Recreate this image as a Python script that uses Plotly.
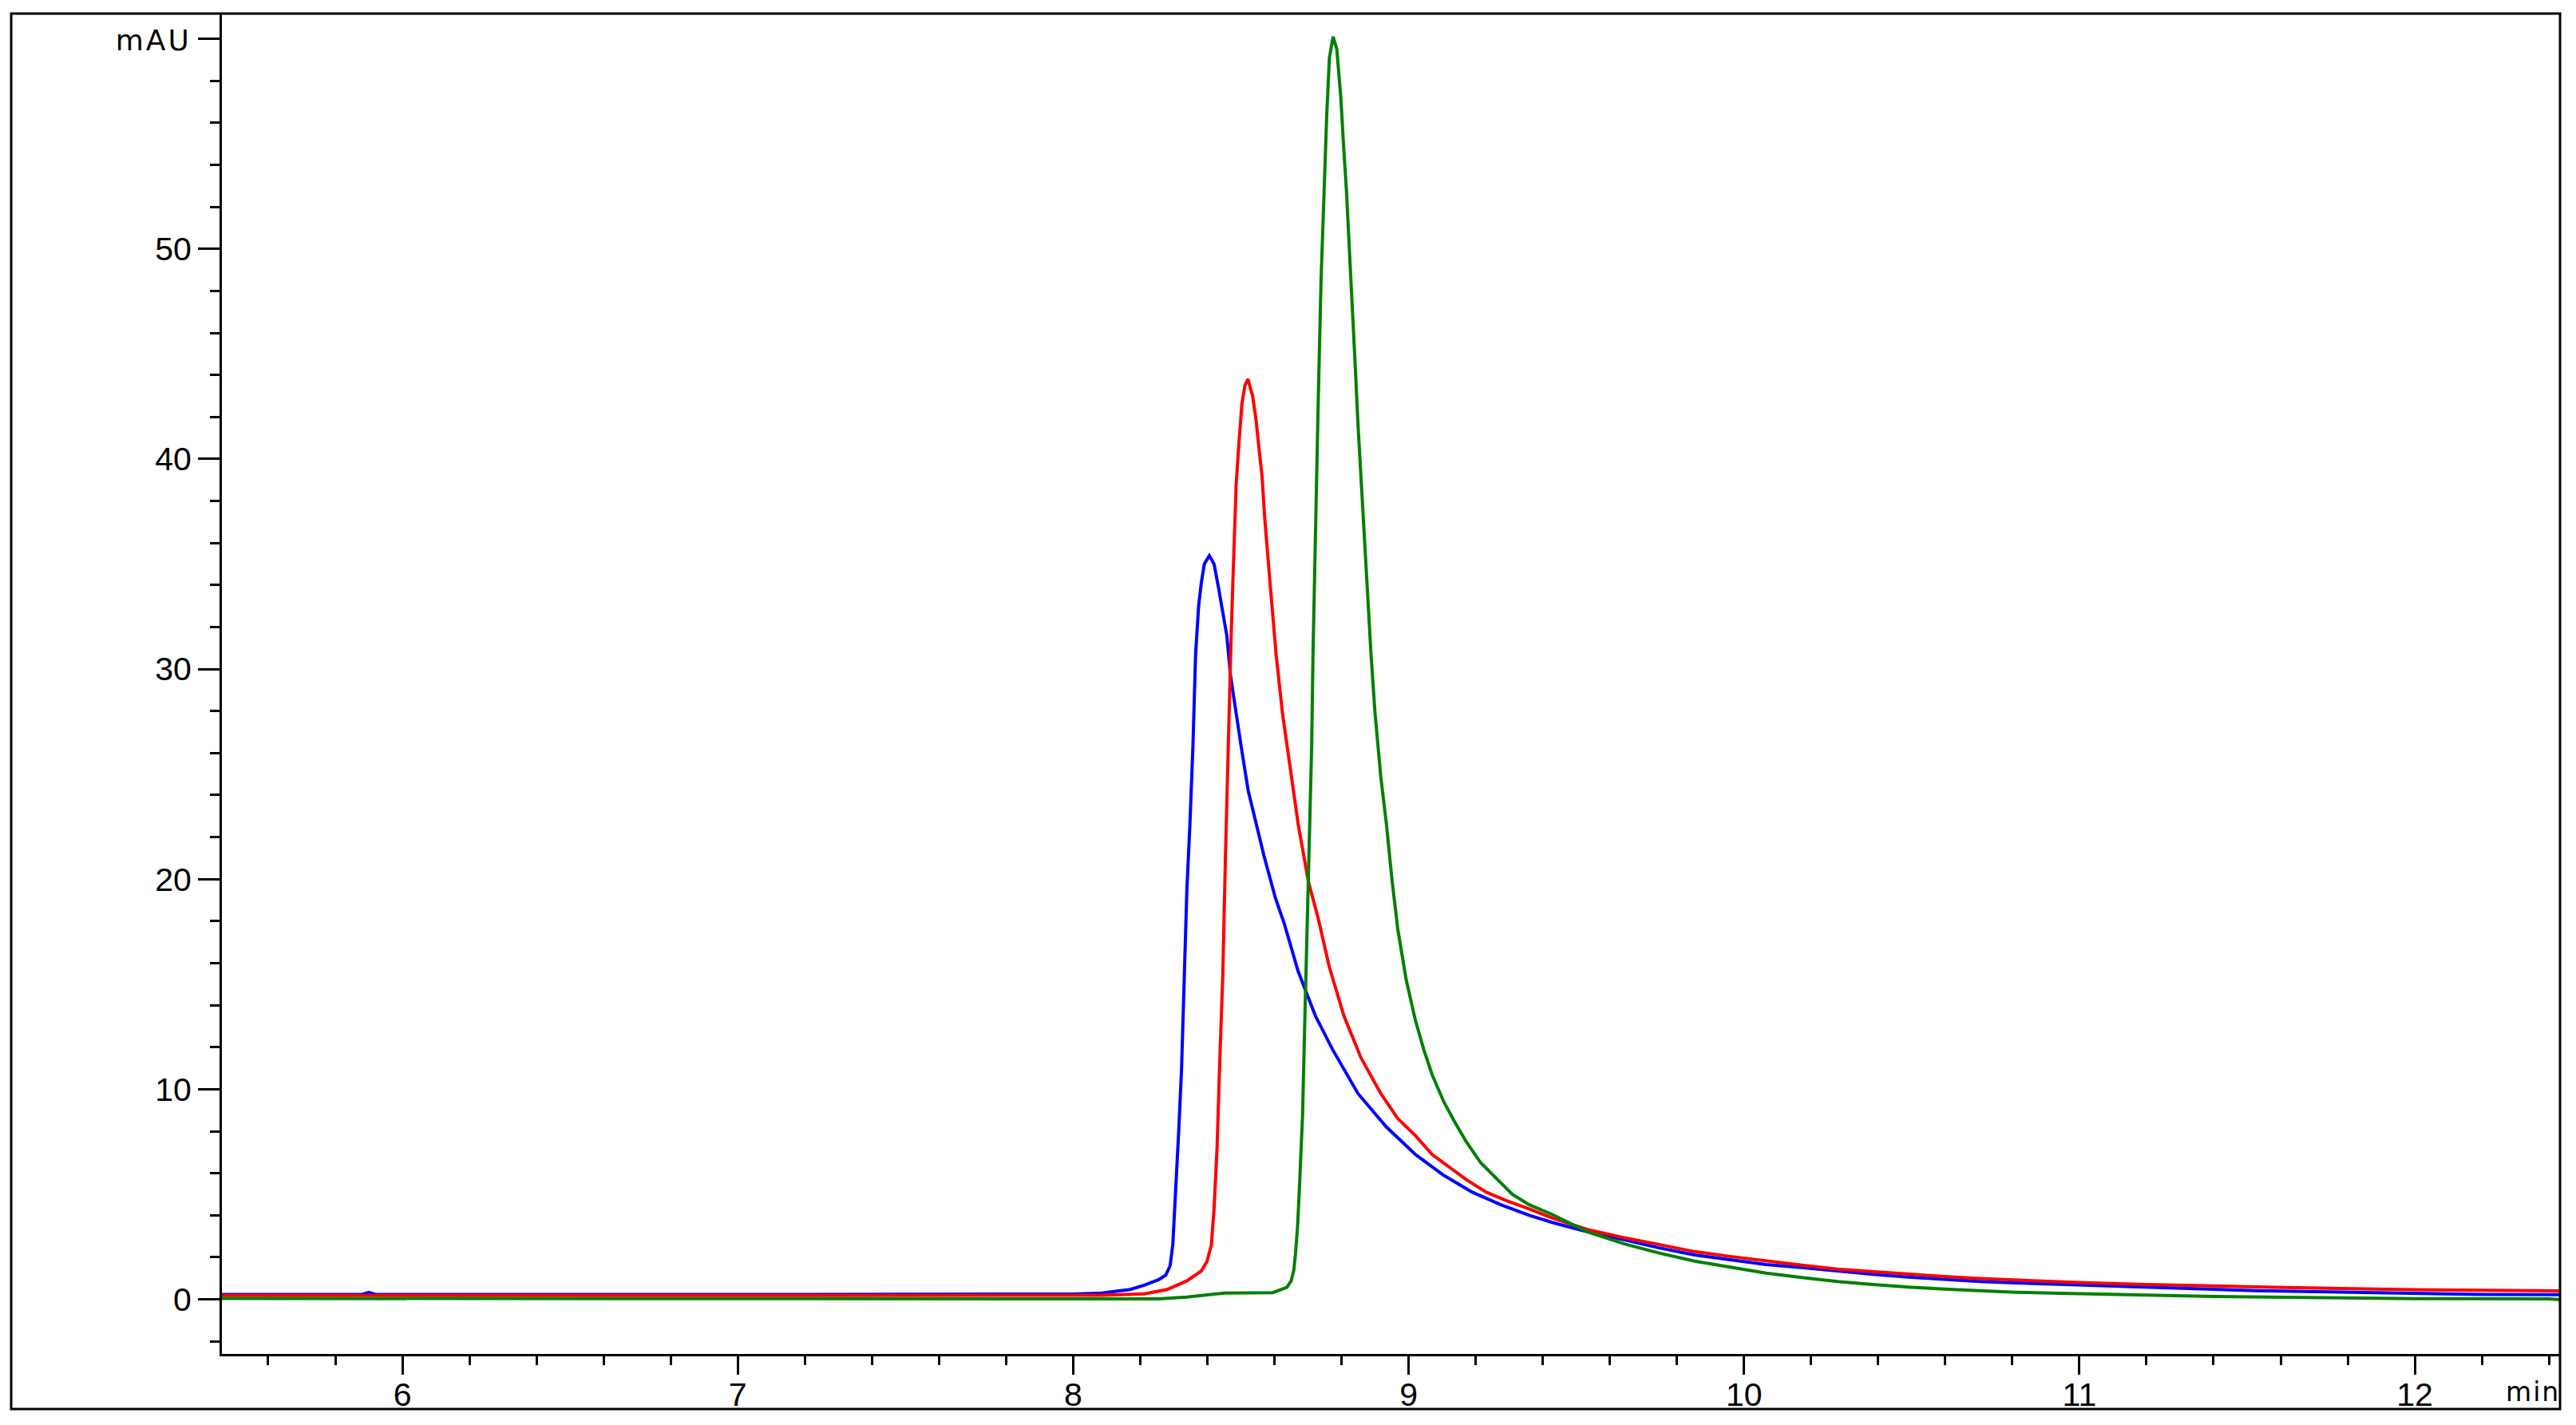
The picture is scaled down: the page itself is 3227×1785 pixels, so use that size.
import plotly.graph_objects as go

# ---- data (time in min, absorbance in mAU) ----
blue_t = [5.46, 5.88, 5.90, 5.92, 7.00, 8.00, 8.085, 8.17, 8.212, 8.255, 8.276, 8.289, 8.297, 8.306,
          8.314, 8.323, 8.331, 8.339, 8.348, 8.357, 8.365, 8.374, 8.382, 8.391, 8.406, 8.420, 8.433,
          8.446, 8.458, 8.469, 8.483, 8.501, 8.522, 8.544, 8.569, 8.603, 8.629, 8.671, 8.722, 8.773,
          8.849, 8.934, 9.020, 9.105, 9.190, 9.275, 9.360, 9.428, 9.534, 9.641, 9.747, 9.853, 9.959,
          10.066, 10.172, 10.278, 10.384, 10.491, 10.597, 10.703, 10.809, 10.916, 11.011, 11.194,
          11.398, 11.53, 11.673, 11.815, 12.069, 12.212, 12.435]
blue_v = [0.23, 0.23, 0.33, 0.23, 0.23, 0.25, 0.30, 0.47, 0.67, 0.94, 1.15, 1.6, 2.6, 5.1,
          7.8, 10.9, 15.4, 19.5, 22.6, 26.3, 30.7, 33.0, 34.1, 35.0, 35.4, 35.0, 33.9,
          32.8, 31.6, 29.7, 28.1, 26.3, 24.2, 22.8, 21.1, 19.1, 17.9, 15.6, 13.5, 11.9,
          9.8, 8.2, 6.9, 5.9, 5.1, 4.5, 4.0, 3.66, 3.21, 2.84, 2.45, 2.11, 1.89,
          1.66, 1.51, 1.34, 1.19, 1.06, 0.94, 0.85, 0.78, 0.72, 0.68, 0.57,
          0.46, 0.41, 0.37, 0.33, 0.29, 0.23, 0.22]

red_t = [5.46, 7.00, 8.00, 8.085, 8.212, 8.280, 8.339, 8.382, 8.399, 8.412, 8.420, 8.429, 8.437,
         8.446, 8.454, 8.463, 8.471, 8.476, 8.482, 8.486, 8.494, 8.503, 8.512, 8.521, 8.535, 8.545,
         8.554, 8.563, 8.571, 8.579, 8.588, 8.596, 8.605, 8.624, 8.650, 8.671, 8.701, 8.731, 8.764,
         8.807, 8.858, 8.917, 8.968, 9.020, 9.070, 9.121, 9.172, 9.232, 9.291, 9.360, 9.428, 9.534,
         9.641, 9.747, 9.853, 9.959, 10.066, 10.172, 10.278, 10.384, 10.491, 10.597, 10.703, 10.809,
         10.916, 11.0, 11.174, 11.398, 11.581, 11.744, 11.998, 12.364, 12.435]
red_v = [0.18, 0.18, 0.18, 0.19, 0.26, 0.47, 0.88, 1.35, 1.8, 2.6, 4.3, 7.2, 11.3,
         15.4, 21.1, 27.3, 31.6, 34.1, 37.0, 38.8, 40.7, 42.6, 43.5, 43.8, 43.0, 41.9,
         40.5, 39.2, 37.2, 35.5, 33.9, 32.4, 30.7, 27.9, 24.9, 22.6, 19.9, 18.1, 15.8,
         13.5, 11.5, 9.8, 8.6, 7.8, 6.9, 6.3, 5.7, 5.1, 4.7, 4.3, 3.87, 3.32,
         2.94, 2.61, 2.27, 2.04, 1.82, 1.63, 1.44, 1.32, 1.19, 1.09, 0.99, 0.92,
         0.86, 0.80, 0.72, 0.62, 0.57, 0.53, 0.46, 0.41, 0.40]

green_t = [5.46, 6.00, 7.00, 8.00, 8.085, 8.255, 8.339, 8.45, 8.595, 8.637, 8.650, 8.658, 8.663,
           8.669, 8.674, 8.679, 8.684, 8.690, 8.697, 8.701, 8.708, 8.711, 8.715, 8.722, 8.730, 8.739,
           8.747, 8.756, 8.764, 8.775, 8.786, 8.798, 8.807, 8.815, 8.824, 8.832, 8.841, 8.849, 8.858,
           8.866, 8.875, 8.888, 8.900, 8.917, 8.934, 8.951, 8.968, 8.993, 9.020, 9.045, 9.070, 9.105,
           9.139, 9.172, 9.215, 9.258, 9.309, 9.360, 9.428, 9.534, 9.641, 9.747, 9.853, 9.959, 10.066,
           10.172, 10.278, 10.384, 10.491, 10.597, 10.703, 10.809, 10.916, 11.0, 11.2, 11.4, 11.63,
           11.80, 12.0, 12.4, 12.435]
green_v = [0.04, 0.03, 0.02, 0.0, 0.0, 0.02, 0.11, 0.30, 0.32, 0.57, 0.88, 1.4, 2.2,
           3.45, 5.1, 6.7, 8.8, 12.9, 17.0, 19.9, 23.2, 26.3, 30.7, 37.0, 42.3, 48.5,
           52.5, 56.4, 59.1, 60.1, 59.5, 57.2, 54.7, 52.7, 49.8, 47.5, 44.4, 41.7, 39.0,
           36.8, 34.1, 30.7, 27.9, 24.9, 22.6, 19.9, 17.6, 15.2, 13.3, 11.9, 10.7, 9.4,
           8.4, 7.5, 6.5, 5.8, 5.0, 4.5, 4.04, 3.21, 2.65, 2.20, 1.82, 1.53, 1.25,
           1.04, 0.85, 0.71, 0.58, 0.49, 0.41, 0.34, 0.30, 0.28, 0.20, 0.14, 0.10,
           0.08, 0.03, 0.02, -0.02]

x_tick_vals = [6, 7, 8, 9, 10, 11, 12]
y_tick_vals = [0, 10, 20, 30, 40, 50, 60]
y_tick_text = ["0", "10", "20", "30", "40", "50",
               '<span style="font-family:DejaVu Sans;font-size:36px;letter-spacing:3px">mAU</span>']

FONT = "Liberation Sans, Arial, sans-serif"
W, H = 3227, 1785
ML, MR, MT, MB = 278, 20, 17, 89

fig = go.Figure()
fig.add_trace(go.Scatter(x=blue_t, y=blue_v, mode="lines", line=dict(color="#0000ff", width=4)))
fig.add_trace(go.Scatter(x=red_t, y=red_v, mode="lines", line=dict(color="#ff0000", width=4)))
fig.add_trace(go.Scatter(x=green_t, y=green_v, mode="lines", line=dict(color="#008000", width=4)))

axis_common = dict(showgrid=False, zeroline=False, showline=True, linecolor="black", linewidth=3,
                   ticks="outside", tickcolor="black", tickwidth=3, automargin=False,
                   tickfont=dict(family=FONT, size=41, color="black"))

fig.update_layout(
    template="none",
    width=W, height=H,
    margin=dict(l=ML, r=MR, t=MT, b=MB, pad=0, autoexpand=False),
    paper_bgcolor="white", plot_bgcolor="white",
    showlegend=False,
    xaxis=dict(range=[5.462, 12.433], tickmode="array", tickvals=x_tick_vals, ticklen=23,
               ticklabelstandoff=-10,
               minor=dict(tickmode="linear", tick0=0, dtick=0.2, ticklen=11, tickwidth=3,
                          tickcolor="black", ticks="outside", showgrid=False),
               **axis_common),
    yaxis=dict(range=[-2.6, 61.2], tickmode="array", tickvals=y_tick_vals, ticktext=y_tick_text,
               ticklen=27,
               minor=dict(tickmode="linear", tick0=0, dtick=2, ticklen=12, tickwidth=3,
                          tickcolor="black", ticks="outside", showgrid=False),
               **axis_common),
)

plot_w = W - ML - MR
plot_h = H - MT - MB
# outer frame
fig.add_shape(type="rect", xref="paper", yref="paper",
              x0=(14 - ML) / plot_w, x1=1.0, y0=-(1765 - (H - MB)) / plot_h, y1=1.0,
              line=dict(color="black", width=3), fillcolor="rgba(0,0,0,0)", layer="above")

fig.add_annotation(text='<span style="letter-spacing:2px">min</span>', xref="paper", yref="paper",
                   x=1.0, xanchor="right", xshift=2,
                   y=-(1744 - (H - MB)) / plot_h, yanchor="middle", showarrow=False,
                   font=dict(family="DejaVu Sans", size=33, color="black"))

fig.write_html("out.html", config={"displayModeBar": False},
               post_script="document.body.style.margin='0';document.body.style.overflow='hidden';")
